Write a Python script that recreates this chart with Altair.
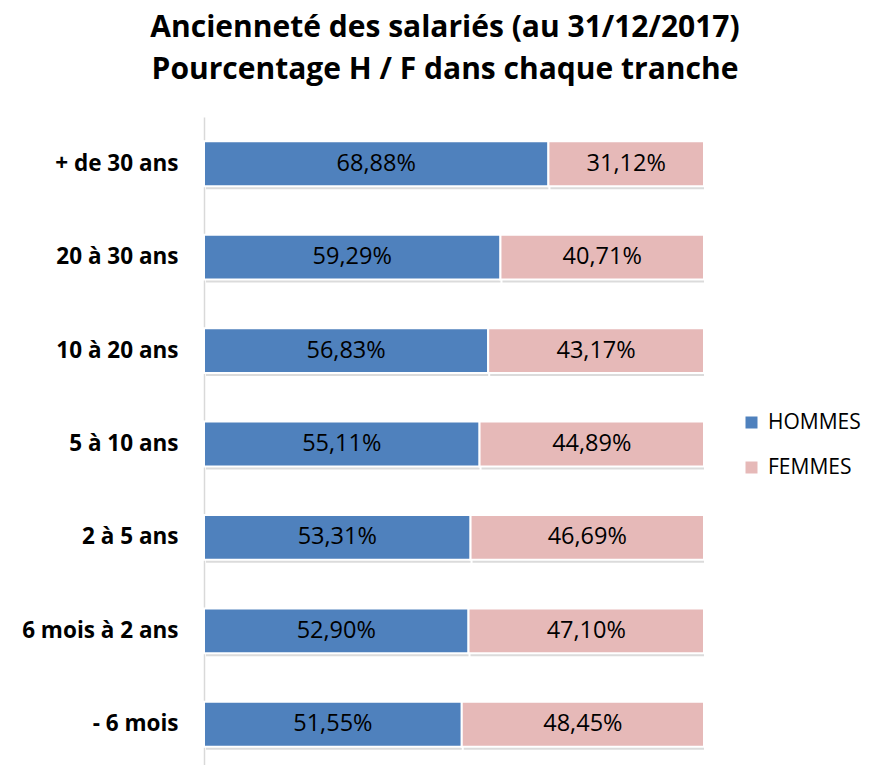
import altair as alt
import pandas as pd

categories = ["+ de 30 ans", "20 à 30 ans", "10 à 20 ans", "5 à 10 ans",
              "2 à 5 ans", "6 mois à 2 ans", "- 6 mois"]
hommes = [68.88, 59.29, 56.83, 55.11, 53.31, 52.90, 51.55]
femmes = [31.12, 40.71, 43.17, 44.89, 46.69, 47.10, 48.45]
series = ["HOMMES", "FEMMES"]
colors = ["#4F81BD", "#E6B9B8"]

rows = []
for i, c in enumerate(categories):
    for j, (s, v) in enumerate(zip(series, [hommes[i], femmes[i]])):
        rows.append({"cat": c, "serie": s, "order": j, "value": v,
                     "label": f"{v:.2f}".replace(".", ",") + "%"})
df = pd.DataFrame(rows)

FONT = "Open Sans"

base = alt.Chart(df).transform_stack(
    stack="value", groupby=["cat"], as_=["x0", "x1"],
    sort=[alt.SortField("order", order="ascending")]
).transform_calculate(mid="(datum.x0 + datum.x1) / 2")

yenc = alt.Y("cat:N", sort=categories, title=None,
             scale=alt.Scale(paddingInner=0.52, paddingOuter=0.26),
             axis=alt.Axis(labelFont=FONT, labelFontSize=22.5, labelFontWeight="bold",
                           labelColor="#000000", ticks=False, domainColor="#d9d9d9",
                           domainWidth=1.5, labelPadding=26, grid=False))
xscale = alt.Scale(domain=[0, 100], nice=False)

shadow = base.mark_bar(color="#000000", opacity=0.14, yOffset=3, xOffset=2).encode(
    x=alt.X("x0:Q", scale=xscale, axis=None),
    x2="x1:Q",
    y=yenc,
)

bars = base.mark_bar(stroke="#ffffff", strokeWidth=2).encode(
    x=alt.X("x0:Q", scale=xscale, axis=None),
    x2="x1:Q",
    y=yenc,
    color=alt.Color("serie:N", scale=alt.Scale(domain=series, range=colors),
                    legend=alt.Legend(title=None, orient="none", legendX=537, legendY=295,
                                      symbolType="square", symbolSize=144,
                                      symbolStrokeWidth=0,
                                      labelFont=FONT, labelFontSize=21,
                                      labelColor="#000000", rowPadding=23,
                                      labelOffset=6)),
)

texts = base.mark_text(font=FONT, fontSize=23.5, color="#000000").encode(
    x=alt.X("mid:Q", scale=xscale, axis=None),
    y=alt.Y("cat:N", sort=categories),
    text="label:N",
)

chart = alt.layer(shadow, bars, texts).properties(
    width=500, height=654,
    padding={"left": 196, "top": 109, "right": 164, "bottom": 0},
    autosize=alt.AutoSizeParams(type="none"),
    title=alt.Title(["Ancienneté des salariés (au 31/12/2017)",
                     "Pourcentage H / F dans chaque tranche"],
                    font=FONT, fontSize=30, fontWeight="bold", color="#000000",
                    anchor="middle", lineHeight=42, offset=32, dx=-9),
).configure_view(stroke=None)

chart.save("out.html", embed_options={"renderer": "svg", "actions": False})
